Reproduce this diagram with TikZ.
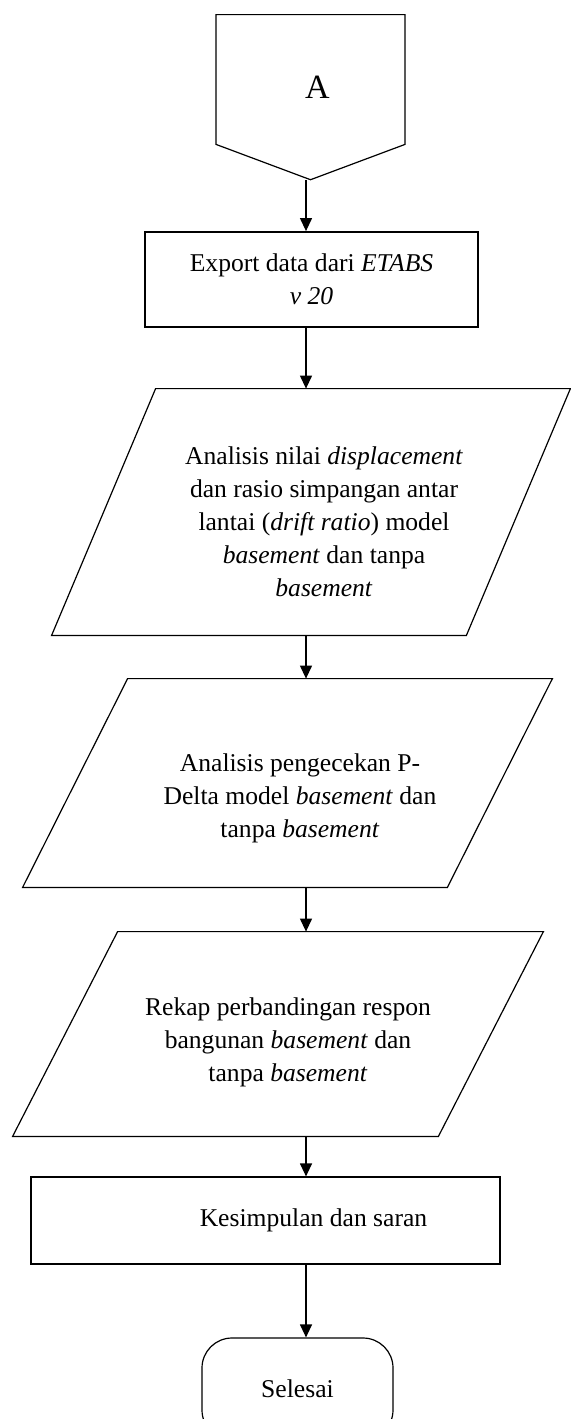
\documentclass[tikz,border=0pt]{standalone}
\usepackage{fontspec}
\setmainfont{Liberation Serif}
\usetikzlibrary{shapes,arrows.meta}
\tikzstyle{block} = [rectangle, draw, line width=0.6pt, align=center, inner sep=0pt]
\tikzstyle{io} = [rectangle, align=center, inner sep=0pt]
\tikzstyle{offpage} = [signal, signal to=south, signal from=nowhere, draw, line width=0.6pt, inner sep=0pt]
\tikzstyle{term} = [rectangle, draw, rounded corners=15pt, line width=0.6pt, inner sep=0pt]
\tikzstyle{line} = [draw, line width=0.6pt, -{Triangle[width=6pt,length=6.5pt]}]
% jajaran genjang di sekeliling node io: {node}{miring}{geser x}{geser y}
\newcommand{\jajar}[4]{
	\draw[line width=0.6pt] ([shift={(#2+#3,#4)}]#1.north west) -- ([shift={(#3,#4)}]#1.north east) -- ([shift={(#3-#2,#4)}]#1.south east) -- ([shift={(#3,#4)}]#1.south west) -- cycle;
	\coordinate (#1-atas) at ([shift={(0,#4)}]#1.north);
	\coordinate (#1-bawah) at ([shift={(0,#4)}]#1.south);
}

\begin{document}
\begin{tikzpicture}[x=0.5pt, y=-0.5pt, font=\fontsize{12.8}{16.5}\selectfont]
	\useasboundingbox (0,0) rectangle (571,1419);
	\clip (0,0) rectangle (571,1419);
	\coordinate (axis) at (306,0);
	\node [offpage, signal pointer angle=139, minimum width=94.5pt, minimum height=68.5pt, font=\fontsize{17}{20}\selectfont, text height=18.5pt] (conn) at (310.5,79.5) {\hspace*{7pt}A};
	\node [block, line width=0.9pt, minimum width=166.5pt, minimum height=47.5pt] (export) at (311.5,279.5) {Export data dari \textit{ETABS}\\ \textit{v 20}};
	\node [io, minimum width=259pt, minimum height=123pt] (drift) at (324,521.5) {Analisis nilai \textit{displacement}\\ dan rasio simpangan antar\\ lantai (\textit{drift ratio}) model\\ \textit{basement} dan tanpa\\ \textit{basement}};
	\node [io, minimum width=264.5pt, minimum height=104pt] (pdelta) at (300,798.5) {Analisis pengecekan P-\\ Delta model \textit{basement} dan\\ tanpa \textit{basement}};
	\node [io, minimum width=265pt, minimum height=102pt] (rekap) at (288,1042.5) {Rekap perbandingan respon\\ bangunan \textit{basement} dan\\ tanpa \textit{basement}};
	\node [block, minimum width=234.5pt, minimum height=43.5pt] (simpulan) at (265.5,1220.5) {\hspace*{48pt}Kesimpulan dan saran};
	\node [term, minimum width=95.5pt, minimum height=51pt] (selesai) at (297.5,1389) {Selesai};
	\jajar{drift}{104}{-13}{-9.5}
	\jajar{pdelta}{105}{-12.5}{-15.5}
	\jajar{rekap}{105}{-10}{-8.5}
	% alur
	\path [line] (axis |- conn.south) -- (axis |- export.north);
	\path [line] (axis |- export.south) -- (axis |- drift-atas);
	\path [line] (axis |- drift-bawah) -- (axis |- pdelta-atas);
	\path [line] (axis |- pdelta-bawah) -- (axis |- rekap-atas);
	\path [line] (axis |- rekap-bawah) -- (axis |- simpulan.north);
	\path [line] (axis |- simpulan.south) -- (axis |- selesai.north);
\end{tikzpicture}
\end{document}
